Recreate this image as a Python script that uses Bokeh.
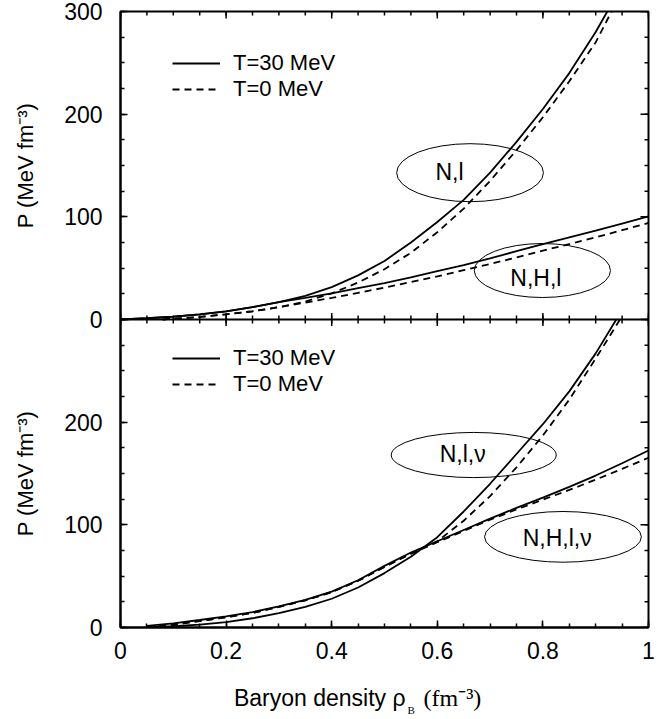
import numpy as np
from bokeh.plotting import figure
from bokeh.layouts import row, column
from bokeh.models import Range1d, FixedTicker, Span, Legend, LegendItem, Label
from bokeh.core.properties import value
from bokeh.embed import file_html
from bokeh.resources import INLINE

# ---------------- data ----------------
# top panel (without neutrinos)
nl_t30_x = [0.0, 0.05, 0.10, 0.15, 0.20, 0.25, 0.30, 0.35, 0.40, 0.45, 0.50,
            0.55, 0.60, 0.65, 0.70, 0.75, 0.80, 0.85, 0.90, 0.922]
nl_t30_p = [0.0, 1.2, 2.8, 5.0, 8.0, 12.0, 17.0, 23.0, 31.5, 43.0, 57.0,
            75.0, 95.0, 116.5, 143.0, 173.0, 205.0, 240.0, 280.0, 300.0]
nl_t0_x = [0.08, 0.10, 0.15, 0.20, 0.25, 0.30, 0.35, 0.40, 0.45, 0.50,
           0.55, 0.60, 0.65, 0.70, 0.75, 0.80, 0.85, 0.90, 0.93]
nl_t0_p = [0.0, 0.8, 2.5, 5.0, 8.0, 12.0, 17.5, 25.5, 36.0, 49.0,
           65.0, 85.0, 108.0, 135.0, 165.0, 197.0, 232.0, 270.0, 300.0]
nhl_t30_x = [0.0, 0.05, 0.10, 0.15, 0.20, 0.25, 0.30, 0.35, 0.40, 0.45, 0.50,
             0.55, 0.60, 0.65, 0.70, 0.75, 0.80, 0.85, 0.90, 0.95, 1.0]
nhl_t30_p = [0.0, 1.2, 2.8, 5.0, 8.0, 12.0, 17.0, 21.0, 25.5, 30.5, 35.5,
             41.0, 47.0, 53.0, 59.5, 66.5, 73.5, 80.0, 86.5, 93.5, 100.5]
nhl_t0_x = [0.08, 0.10, 0.15, 0.20, 0.25, 0.30, 0.35, 0.40, 0.45, 0.50,
            0.55, 0.60, 0.65, 0.70, 0.75, 0.80, 0.85, 0.90, 0.95, 1.0]
nhl_t0_p = [0.0, 0.8, 2.5, 5.0, 8.0, 12.0, 16.5, 21.0, 26.0, 31.0,
            36.5, 42.0, 48.0, 54.0, 60.5, 67.0, 73.5, 80.0, 87.0, 94.0]

# bottom panel (with trapped neutrinos)
nlv_t30_x = [0.05, 0.10, 0.15, 0.20, 0.25, 0.30, 0.35, 0.40, 0.45, 0.50,
             0.55, 0.60, 0.65, 0.70, 0.75, 0.80, 0.85, 0.90, 0.939]
nlv_t30_p = [0.3, 1.2, 2.8, 5.2, 9.0, 14.0, 20.0, 28.0, 39.0, 53.0,
             69.0, 88.0, 113.0, 140.0, 169.0, 198.0, 230.0, 267.0, 300.0]
nlv_t0_x = [0.05, 0.10, 0.15, 0.20, 0.25, 0.30, 0.35, 0.40, 0.45, 0.50,
            0.55, 0.60, 0.65, 0.70, 0.75, 0.80, 0.85, 0.90, 0.946]
nlv_t0_p = [0.5, 2.8, 6.3, 10.0, 14.3, 20.0, 26.5, 34.5, 45.5, 59.0,
            72.0, 84.0, 104.0, 128.0, 156.0, 187.0, 222.0, 262.0, 300.0]
nhlv_t30_x = [0.05, 0.10, 0.15, 0.20, 0.25, 0.30, 0.35, 0.40, 0.45, 0.50,
              0.55, 0.60, 0.65, 0.70, 0.75, 0.80, 0.85, 0.90, 0.95, 1.0]
nhlv_t30_p = [1.5, 4.0, 7.3, 10.8, 15.0, 20.5, 27.0, 35.0, 46.0, 60.0,
              73.0, 84.0, 95.0, 106.0, 116.5, 126.5, 137.0, 148.0, 160.0, 172.4]
nhlv_t0_x = [0.05, 0.10, 0.15, 0.20, 0.25, 0.30, 0.35, 0.40, 0.45, 0.50,
             0.55, 0.60, 0.65, 0.70, 0.75, 0.80, 0.85, 0.90, 0.95, 1.0]
nhlv_t0_p = [0.5, 2.8, 6.3, 10.0, 14.3, 20.0, 26.5, 34.5, 45.5, 59.0,
             72.0, 83.0, 94.0, 105.0, 115.0, 124.5, 134.0, 144.0, 154.5, 165.3]

# ticks
x_major = [0.0, 0.2, 0.4, 0.6, 0.8, 1.0]
x_minor = [round(0.05 * i, 2) for i in range(21)]
y_major = [0, 100, 200, 300, 400, 500, 600]
y_minor = [25 * i for i in range(25)]
y_labels = {0: "0", 100: "100", 200: "200", 300: "0", 400: "100", 500: "200", 600: "300"}

legend_labels = ["T=30 MeV", "T=0 MeV"]
y_title = "P (MeV fm⁻³)"
x_title_parts = ["Baryon density ρ", "B", "(fm⁻³)"]

# region tags (ellipses)
top_tags = ["N,l", "N,H,l"]
top_tag_x = [0.662, 0.799]
top_tag_y = [143.0, 47.7]
top_tag_w = [0.278, 0.258]
top_tag_h = [56.5, 52.6]
top_txt_x = [0.623, 0.7866]
top_txt_y = [143.5, 40.5]

bot_tags = ["N,l,ν", "N,H,l,ν"]
bot_tag_x = [0.669, 0.838]
bot_tag_y = [168.0, 88.3]
bot_tag_w = [0.3125, 0.297]
bot_tag_h = [44.0, 49.4]
bot_txt_x = [0.648, 0.827]
bot_txt_y = [169.2, 87.2]

FONT = "Liberation Sans"
SERIF = "Liberation Serif"
FS = "23px"

# ---------------- layout constants ----------------
YLAB_W = 48
MAIN_W = 615
TOP_B = 11
FRAME_H = 616
BOT_B = 42
MAIN_H = TOP_B + FRAME_H + BOT_B
XLAB_H = 49

# ---------------- main figure ----------------
p = figure(width=MAIN_W, height=MAIN_H, x_range=Range1d(0, 1), y_range=Range1d(0, 600),
           output_backend="svg", toolbar_location=None, title=None,
           min_border_left=72, min_border_right=15, min_border_top=TOP_B,
           min_border_bottom=BOT_B)
p.extra_y_ranges = {"top": Range1d(-300, 300)}
p.xgrid.visible = False
p.ygrid.visible = False
p.outline_line_color = "black"
p.outline_line_width = 2

xt = FixedTicker(ticks=x_major, minor_ticks=x_minor)
yt = FixedTicker(ticks=y_major, minor_ticks=y_minor)
xax = p.below[0]
yax = p.left[0]
xax.ticker = xt
yax.ticker = yt

for ax in (xax, yax):
    ax.axis_line_width = 2
    ax.axis_line_color = "black"
    ax.major_tick_in = 7
    ax.major_tick_out = 0
    ax.minor_tick_in = 4
    ax.minor_tick_out = 0
    ax.major_tick_line_width = 1.5
    ax.minor_tick_line_width = 1.5
    ax.major_tick_line_color = "black"
    ax.minor_tick_line_color = "black"
    ax.major_label_text_font = FONT
    ax.major_label_text_font_size = FS
    ax.major_label_text_color = "black"

yax.major_label_overrides = {float(k): v for k, v in y_labels.items()}
yax.major_label_standoff = 18
xax.major_label_standoff = 14

# mirrored inward ticks on the top and right edges (half of each dash is
# clipped away by the frame) and crossing ticks on the panel boundary
p.scatter(x=x_major, y=[600] * len(x_major), marker="dash", angle=np.pi / 2,
          size=14, line_color="black", line_width=1.5)
p.scatter(x=x_minor, y=[600] * len(x_minor), marker="dash", angle=np.pi / 2,
          size=8, line_color="black", line_width=1.5)
p.scatter(x=[1.0] * len(y_major), y=y_major, marker="dash",
          size=16, line_color="black", line_width=1.5)
p.scatter(x=[1.0] * len(y_minor), y=y_minor, marker="dash",
          size=8, line_color="black", line_width=1.5)

p.add_layout(Span(location=0, dimension="width", y_range_name="top",
                  line_color="black", line_width=2))
p.scatter(x=x_major, y=[0] * len(x_major), y_range_name="top", marker="dash",
          angle=np.pi / 2, size=13, line_color="black", line_width=1.5)
p.scatter(x=x_minor, y=[0] * len(x_minor), y_range_name="top", marker="dash",
          angle=np.pi / 2, size=8, line_color="black", line_width=1.5)

LW = 1.8
DASH = "7 5"
# top panel curves
r1 = p.line(nl_t30_x, nl_t30_p, y_range_name="top", line_color="black", line_width=LW)
r2 = p.line(nl_t0_x, nl_t0_p, y_range_name="top", line_color="black", line_width=LW, line_dash=DASH)
p.line(nhl_t30_x, nhl_t30_p, y_range_name="top", line_color="black", line_width=LW)
p.line(nhl_t0_x, nhl_t0_p, y_range_name="top", line_color="black", line_width=LW, line_dash=DASH)

# bottom panel curves
r3 = p.line(nlv_t30_x, nlv_t30_p, line_color="black", line_width=LW)
r4 = p.line(nlv_t0_x, nlv_t0_p, line_color="black", line_width=LW, line_dash=DASH)
p.line(nhlv_t30_x, nhlv_t30_p, line_color="black", line_width=LW)
p.line(nhlv_t0_x, nhlv_t0_p, line_color="black", line_width=LW, line_dash=DASH)

# ellipses + tags
p.ellipse(x=top_tag_x, y=top_tag_y, width=top_tag_w, height=top_tag_h,
          y_range_name="top", fill_color=None, line_color="black", line_width=1)
p.ellipse(x=bot_tag_x, y=bot_tag_y, width=bot_tag_w, height=bot_tag_h,
          fill_color=None, line_color="black", line_width=1)
for t, x, y in zip(top_tags, top_txt_x, top_txt_y):
    p.add_layout(Label(x=x, y=y, y_range_name="top", text=t, text_align="center",
                       text_baseline="middle", text_font=FONT, text_font_size=FS,
                       text_color="black"))
for t, x, y in zip(bot_tags, bot_txt_x, bot_txt_y):
    p.add_layout(Label(x=x, y=y, text=t, text_align="center",
                       text_baseline="middle", text_font=FONT, text_font_size=FS,
                       text_color="black"))

# legends
def make_legend(ra, rb, loc):
    return Legend(items=[LegendItem(label=legend_labels[0], renderers=[ra]),
                         LegendItem(label=legend_labels[1], renderers=[rb])],
                  location=loc, padding=0, margin=0, spacing=0,
                  border_line_color=None, background_fill_alpha=0,
                  glyph_width=48, glyph_height=24, label_height=24,
                  label_standoff=13, label_text_font=FONT,
                  label_text_font_size="22px", label_text_color="black")

p.add_layout(make_legend(r1, r2, (52, 525)))
p.add_layout(make_legend(r3, r4, (52, 230)))

# ---------------- y-title strip ----------------
yl = figure(width=YLAB_W, height=MAIN_H, x_range=Range1d(0, YLAB_W), y_range=p.y_range,
            output_backend="svg", toolbar_location=None, title=None,
            x_axis_location=None, y_axis_location=None,
            min_border_left=0, min_border_right=0, min_border_top=TOP_B,
            min_border_bottom=BOT_B, outline_line_color=None)
yl.grid.visible = False
yl.text(x=[25, 25], y=[450, 150], text=[y_title, y_title], angle=np.pi / 2,
        text_align="center", text_baseline="middle", text_font=value(FONT),
        text_font_size=value("22px"), text_color="black")

# ---------------- x-title strip ----------------
xl = figure(width=YLAB_W + MAIN_W, height=XLAB_H, x_range=p.x_range,
            y_range=Range1d(XLAB_H, 0), output_backend="svg", toolbar_location=None,
            title=None, x_axis_location=None, y_axis_location=None,
            min_border_left=120, min_border_right=15, min_border_top=0,
            min_border_bottom=0, outline_line_color=None)
xl.grid.visible = False
xl.text(x=[0.5398], y=[28], text=[x_title_parts[0]], text_align="right",
        text_baseline="middle", text_font=value(FONT), text_font_size=value(FS),
        text_color="black")
xl.text(x=[0.5436], y=[40], text=[x_title_parts[1]], text_align="left",
        text_baseline="middle", text_font=value(SERIF), text_font_size=value("11px"),
        text_color="black")
xl.text(x=[0.5739], y=[28], text=[x_title_parts[2]], text_align="left",
        text_baseline="middle", text_font=value(SERIF), text_font_size=value("24px"),
        text_color="black")

layout = column(row(yl, p), xl)
open("out.html", "w").write(file_html(layout, INLINE))
